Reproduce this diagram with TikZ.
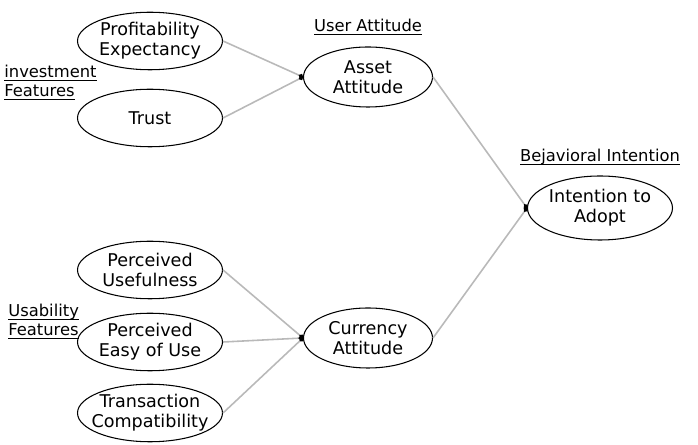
\documentclass[tikz,border=0pt]{standalone}
\usepackage{amsmath}
\usepackage{fontspec}
\setmainfont{DejaVu Sans}
\usepackage{tikz}
\usetikzlibrary{arrows.meta,positioning,shapes.geometric}

\newcommand{\ulbl}[1]{\underline{\smash[b]{#1}}}

\begin{document}
\begin{tikzpicture}[
  font=\fontsize{10}{11.5}\selectfont,
  construct/.style={ellipse, draw=black, line width=0.6pt, fill=white,
    inner xsep=-5pt, inner ysep=0pt, minimum width=2.9cm,
    minimum height=1.15cm, align=center},
  attitude/.style={construct, minimum width=2.58cm, minimum height=1.2cm},
  grouplabel/.style={inner sep=0pt, align=left, font=\fontsize{9.3}{10.8}\selectfont},
  link/.style={-{Circle[black,length=2.5pt]}, draw=gray!55, line width=0.9pt},
]
  \useasboundingbox (0,0) rectangle (13.96,-8.90);

  % investment features
  \node[construct] (profit) at (3.00,-0.82) {Profitability\\Expectancy};
  \node[construct] (trust) at (3.00,-2.36) {Trust};

  % usability features
  \node[construct] (useful) at (3.00,-5.40) {Perceived\\Usefulness};
  \node[construct] (easy) at (3.00,-6.84) {Perceived\\Easy of Use};
  \node[construct] (compat) at (3.00,-8.26) {Transaction\\Compatibility};

  % attitudes and intention
  \node[attitude] (asset) at (7.36,-1.54) {Asset\\Attitude};
  \node[attitude] (currency) at (7.36,-6.76) {Currency\\Attitude};
  \node[construct, minimum height=1.28cm] (intent) at (12.00,-4.16) {Intention to\\Adopt};

  \node[grouplabel, anchor=north west] (invest) at (0.08,-1.30)
    {\ulbl{investment}\\\ulbl{Features}};
  \node[grouplabel, anchor=north west] (usab) at (0.16,-6.08)
    {\ulbl{Usability}\\\ulbl{Features}};
  \node[grouplabel, above=0.22cm of asset] (user) {\ulbl{User Attitude}};
  \node[grouplabel, above=0.2cm of intent] (behav) {\ulbl{Bejavioral Intention}};

  \draw[link] (profit.east) -- (asset.west);
  \draw[link] (trust.east) -- (asset.west);
  \draw[link] (useful.east) -- (currency.west);
  \draw[link] (easy.east) -- (currency.west);
  \draw[link] (compat.east) -- (currency.west);
  \draw[link] (asset.east) -- (intent.west);
  \draw[link] (currency.east) -- (intent.west);
\end{tikzpicture}
\end{document}
